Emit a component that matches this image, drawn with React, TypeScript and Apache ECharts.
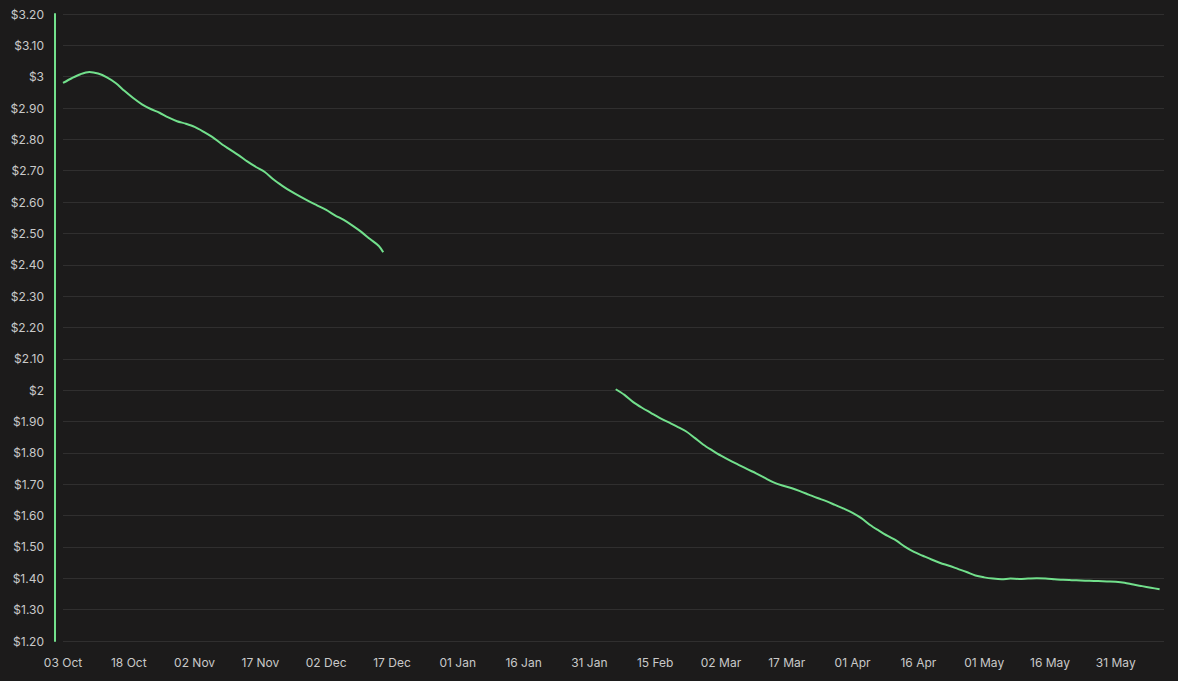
import { useEffect, useRef } from "react";
import * as echarts from "echarts";

const FIRST_DAY = "2022-10-03";
const LAST_DAY = "2023-06-11";

const AUTUMN_DATES = [
  "2022-10-03", "2022-10-05", "2022-10-07", "2022-10-09", "2022-10-11", "2022-10-13",
  "2022-10-15", "2022-10-17", "2022-10-19", "2022-10-21", "2022-10-23", "2022-10-25",
  "2022-10-27", "2022-10-29", "2022-10-31", "2022-11-02", "2022-11-04", "2022-11-06",
  "2022-11-08", "2022-11-10", "2022-11-12", "2022-11-14", "2022-11-16", "2022-11-18",
  "2022-11-20", "2022-11-22", "2022-11-24", "2022-11-26", "2022-11-28", "2022-11-30",
  "2022-12-02", "2022-12-04", "2022-12-06", "2022-12-08", "2022-12-10", "2022-12-12",
  "2022-12-14", "2022-12-15",
];
const AUTUMN_PRICES = [
  2.98, 2.995, 3.008, 3.015, 3.01, 2.998,
  2.98, 2.955, 2.932, 2.912, 2.897, 2.885,
  2.87, 2.858, 2.85, 2.84, 2.825, 2.808,
  2.787, 2.768, 2.75, 2.73, 2.712, 2.696,
  2.672, 2.652, 2.634, 2.618, 2.603, 2.589,
  2.575, 2.558, 2.543, 2.525, 2.505, 2.482,
  2.46, 2.44,
];

const SPRING_DATES = [
  "2023-02-06", "2023-02-08", "2023-02-10", "2023-02-12", "2023-02-14", "2023-02-16",
  "2023-02-18", "2023-02-20", "2023-02-22", "2023-02-24", "2023-02-26", "2023-02-28",
  "2023-03-02", "2023-03-04", "2023-03-06", "2023-03-08", "2023-03-10", "2023-03-12",
  "2023-03-14", "2023-03-16", "2023-03-18", "2023-03-20", "2023-03-22", "2023-03-24",
  "2023-03-26", "2023-03-28", "2023-03-30", "2023-04-01", "2023-04-03", "2023-04-05",
  "2023-04-07", "2023-04-09", "2023-04-11", "2023-04-13", "2023-04-15", "2023-04-17",
  "2023-04-19", "2023-04-21", "2023-04-23", "2023-04-25", "2023-04-27", "2023-04-29",
  "2023-05-01", "2023-05-03", "2023-05-05", "2023-05-07", "2023-05-09", "2023-05-11",
  "2023-05-13", "2023-05-15", "2023-05-17", "2023-05-19", "2023-05-21", "2023-05-23",
  "2023-05-25", "2023-05-27", "2023-05-29", "2023-05-31", "2023-06-02", "2023-06-04",
  "2023-06-06", "2023-06-08", "2023-06-10",
];
const SPRING_PRICES = [
  2.003, 1.985, 1.962, 1.944, 1.928, 1.912,
  1.898, 1.884, 1.869, 1.848, 1.826, 1.808,
  1.791, 1.776, 1.762, 1.748, 1.735, 1.72,
  1.706, 1.696, 1.688, 1.678, 1.667, 1.656,
  1.646, 1.634, 1.622, 1.609, 1.592, 1.57,
  1.552, 1.535, 1.52, 1.5, 1.484, 1.472,
  1.46, 1.449, 1.44, 1.43, 1.42, 1.409,
  1.403, 1.399, 1.397, 1.399, 1.398, 1.399,
  1.4, 1.399, 1.397, 1.395, 1.394, 1.393,
  1.392, 1.391, 1.39, 1.389, 1.386, 1.38,
  1.375, 1.37, 1.365,
];

const Y_MIN = 1.2;
const Y_MAX = 3.2;
const Y_STEP = 0.1;

const MONTHS = ["Jan", "Feb", "Mar", "Apr", "May", "Jun", "Jul", "Aug", "Sep", "Oct", "Nov", "Dec"];
const BG = "#1c1b1b";
const GREEN = "#72e08c";
const TEXT = "#c9c9c9";
const FONT = "Inter, 'Liberation Sans', sans-serif";

// one category per calendar day, so labels land every 15 days
function dayRange(from: string, to: string) {
  const out: string[] = [];
  const d = new Date(from + "T00:00:00Z");
  const end = new Date(to + "T00:00:00Z");
  while (d <= end) {
    out.push(d.toISOString().slice(0, 10));
    d.setUTCDate(d.getUTCDate() + 1);
  }
  return out;
}

function dateLabel(iso: string) {
  const [, m, day] = iso.split("-");
  return `${day} ${MONTHS[Number(m) - 1]}`;
}

function priceLabel(v: number) {
  const r = Math.round(v * 100) / 100;
  return Number.isInteger(r) ? `$${r}` : `$${r.toFixed(2)}`;
}

export default function App() {
  const ref = useRef<HTMLDivElement>(null);

  useEffect(() => {
    if (!ref.current) return;
    const chart = echarts.init(ref.current, undefined, { renderer: "svg" });
    const days = dayRange(FIRST_DAY, LAST_DAY);

    const lineStyle = { color: GREEN, width: 2 };

    chart.setOption({
      animation: false,
      backgroundColor: BG,
      grid: { left: 63, right: 14, top: 14, bottom: 40 },
      xAxis: {
        type: "category",
        data: days,
        boundaryGap: false,
        axisLine: { show: false },
        axisTick: { show: false },
        splitLine: { show: false },
        axisLabel: {
          interval: 14,
          margin: 15,
          color: TEXT,
          fontSize: 12,
          fontFamily: FONT,
          formatter: (v: string) => dateLabel(v),
        },
      },
      yAxis: {
        type: "value",
        min: Y_MIN,
        max: Y_MAX,
        interval: Y_STEP,
        offset: 8,
        axisLine: { show: true, lineStyle: { color: GREEN, width: 2 } },
        axisTick: { show: false },
        splitLine: { lineStyle: { color: "#302f2f", width: 1 } },
        axisLabel: {
          margin: 11,
          color: TEXT,
          fontSize: 12,
          fontFamily: FONT,
          formatter: (v: number) => priceLabel(v),
        },
      },
      series: [
        {
          type: "line",
          data: AUTUMN_DATES.map((d, i) => [d, AUTUMN_PRICES[i]]),
          showSymbol: false,
          smooth: 0.3,
          lineStyle,
        },
        {
          type: "line",
          data: SPRING_DATES.map((d, i) => [d, SPRING_PRICES[i]]),
          showSymbol: false,
          smooth: 0.3,
          lineStyle,
        },
      ],
    });

    return () => chart.dispose();
  }, []);

  return (
    <div
      ref={ref}
      style={{ position: "fixed", left: 0, top: 0, width: 1178, height: 681, background: BG }}
    />
  );
}
